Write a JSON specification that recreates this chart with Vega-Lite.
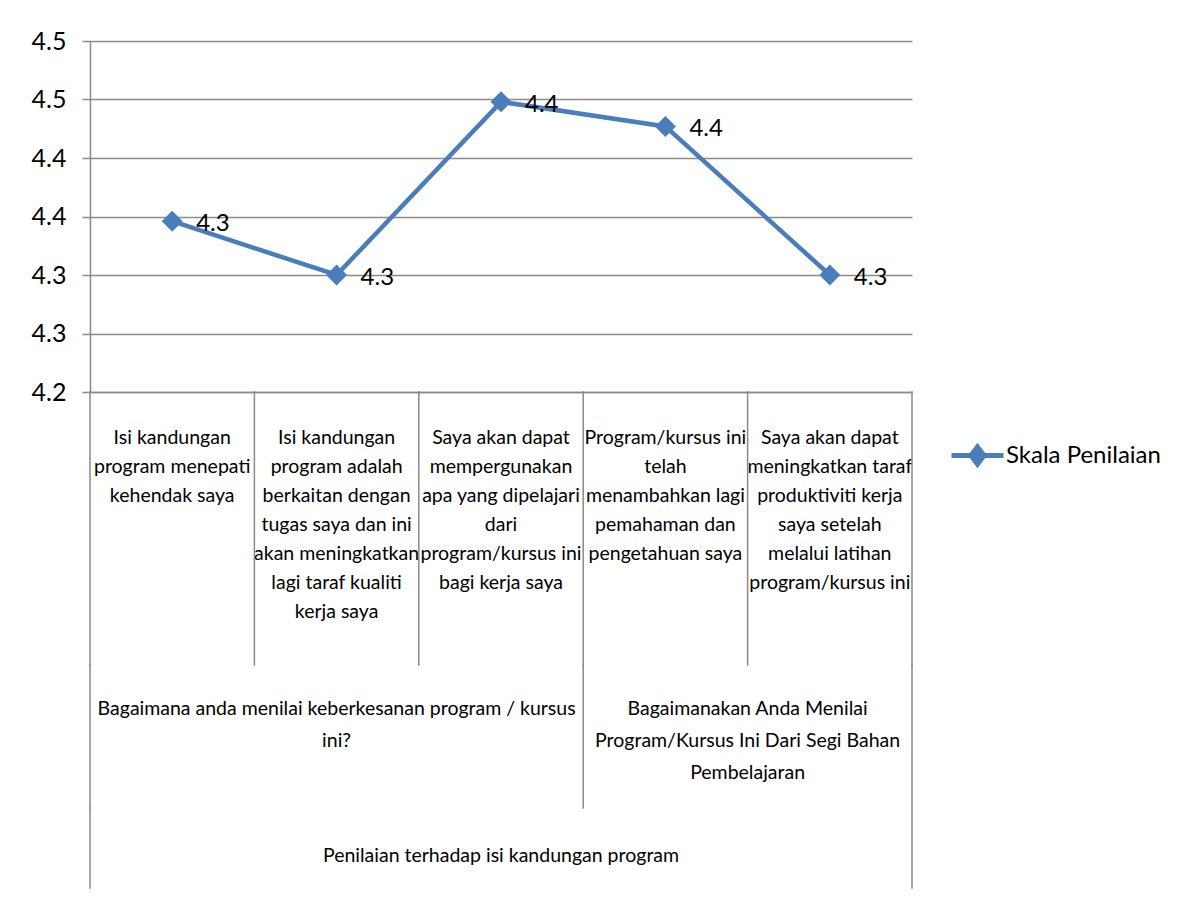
{
  "$schema": "https://vega.github.io/schema/vega-lite/v6.json",
  "padding": {"left": 31, "top": 29, "right": 0, "bottom": 0},
  "background": "white",
  "config": {
    "view": {"stroke": null},
    "font": "Lato"
  },
  "datasets": {
    "ratings": [
      {"idx": 1, "category": "Isi kandungan\nprogram menepati\nkehendak saya", "group": "Bagaimana anda menilai keberkesanan program / kursus\nini?", "top": "Penilaian terhadap isi kandungan program", "value": 4.346},
      {"idx": 2, "category": "Isi kandungan\nprogram adalah\nberkaitan dengan\ntugas saya dan ini\nakan meningkatkan\nlagi taraf kualiti\nkerja saya", "group": "Bagaimana anda menilai keberkesanan program / kursus\nini?", "top": "Penilaian terhadap isi kandungan program", "value": 4.3},
      {"idx": 3, "category": "Saya akan dapat\nmempergunakan\napa yang dipelajari\ndari\nprogram/kursus ini\nbagi kerja saya", "group": "Bagaimana anda menilai keberkesanan program / kursus\nini?", "top": "Penilaian terhadap isi kandungan program", "value": 4.448},
      {"idx": 4, "category": "Program/kursus ini\ntelah\nmenambahkan lagi\npemahaman dan\npengetahuan saya", "group": "Bagaimanakan Anda Menilai\nProgram/Kursus Ini Dari Segi Bahan\nPembelajaran", "top": "Penilaian terhadap isi kandungan program", "value": 4.427},
      {"idx": 5, "category": "Saya akan dapat\nmeningkatkan taraf\nproduktiviti kerja\nsaya setelah\nmelalui latihan\nprogram/kursus ini", "group": "Bagaimanakan Anda Menilai\nProgram/Kursus Ini Dari Segi Bahan\nPembelajaran", "top": "Penilaian terhadap isi kandungan program", "value": 4.3}
    ]
  },
  "data": {"name": "ratings"},
  "spacing": 0,
  "bounds": "flush",
  "vconcat": [
    {
      "width": 822,
      "height": 351,
      "encoding": {
        "x": {
          "field": "category", "type": "nominal", "sort": null,
          "scale": {"type": "band", "paddingInner": 0, "paddingOuter": 0},
          "axis": {
            "title": null, "labelAngle": 0,
            "labelExpr": "split(datum.label, '\\n')",
            "labelFont": "Lato",
            "labelFontSize": 19.5, "labelLineHeight": 29, "labelColor": "black",
            "labelBaseline": "top", "labelPadding": 36, "labelLimit": 400,
            "labelOverlap": false, "labelBound": false, "labelFlush": false,
            "ticks": false,
            "domain": true, "domainColor": "#8a8a8a", "domainWidth": 1.5, "grid": false
          }
        },
        "y": {
          "field": "value", "type": "quantitative",
          "scale": {"domain": [4.2, 4.5], "nice": false, "zero": false},
          "axis": {
            "title": null,
            "values": [4.2, 4.25, 4.3, 4.35, 4.4, 4.45, 4.5],
            "labelExpr": "format(datum.value + 0.001, '.1f')",
            "labelFont": "Lato",
            "labelFontSize": 25, "labelColor": "black", "labelPadding": 16,
            "tickSize": 8, "tickColor": "#8a8a8a", "tickWidth": 1.5,
            "domainColor": "#8a8a8a", "domainWidth": 1.5,
            "grid": true, "gridColor": "#8a8a8a", "gridWidth": 1.5
          }
        }
      },
      "layer": [
        {
          "mark": {"type": "line", "strokeWidth": 4.5},
          "encoding": {
            "color": {
              "datum": "Skala Penilaian", "type": "nominal",
              "scale": {"range": ["#4A7EBB"]},
              "legend": {
                "title": null, "orient": "none", "legendX": 859, "legendY": 386, "padding": 0,
                "labelFont": "Lato",
                "labelFontSize": 24, "labelColor": "black", "labelOffset": 0, "labelLimit": 400,
                "symbolSize": 2704,
                "encode": {
                  "symbols": {
                    "update": {
                      "shape": {"value": "M-1,0L1,0M0,-0.33L0.25,0L0,0.33L-0.25,0Z"},
                      "size": {"value": 2704},
                      "fill": {"value": "#4A7EBB"},
                      "stroke": {"value": "#4A7EBB"},
                      "strokeWidth": {"value": 5},
                      "opacity": {"value": 1}
                    }
                  }
                }
              }
            }
          }
        },
        {
          "mark": {"type": "point", "shape": "diamond", "filled": true, "size": 440, "opacity": 1, "color": "#4A7EBB"}
        },
        {
          "mark": {"type": "text", "align": "left", "baseline": "middle", "dx": 24, "dy": 3, "fontSize": 24, "color": "black"},
          "encoding": {"text": {"field": "value", "type": "quantitative", "format": ".1f"}}
        }
      ]
    },
    {
      "width": 822,
      "height": 273,
      "encoding": {
        "x": {"field": "idx", "type": "ordinal", "scale": {"type": "band", "domain": [1, 2, 3, 4, 5], "paddingInner": 0, "paddingOuter": 0}, "axis": null}
      },
      "layer": [
        {
          "mark": {"type": "rule", "color": "#8a8a8a", "strokeWidth": 1.5, "strokeCap": "square"},
          "encoding": {
            "x": {"field": "idx", "type": "ordinal", "bandPosition": 0}
          }
        },
        {
          "transform": [{"filter": "datum.idx == 5"}],
          "mark": {"type": "rule", "color": "#8a8a8a", "strokeWidth": 1.5, "strokeCap": "square"},
          "encoding": {
            "x": {"field": "idx", "type": "ordinal", "bandPosition": 1}
          }
        }
      ]
    },
    {
      "width": 822,
      "height": 143,
      "layer": [
        {
          "transform": [{"aggregate": [{"op": "mean", "field": "idx", "as": "mid"}], "groupby": ["group"]}],
          "mark": {"type": "text", "align": "center", "baseline": "top", "lineBreak": "\n", "lineHeight": 32, "fontSize": 19.5, "color": "black", "dy": -37},
          "encoding": {
            "x": {"field": "mid", "type": "quantitative", "scale": {"domain": [0.5, 5.5], "nice": false, "zero": false}, "axis": null},
            "text": {"field": "group", "type": "nominal"}
          }
        },
        {
          "transform": [
            {"joinaggregate": [{"op": "min", "field": "idx", "as": "first"}], "groupby": ["group"]},
            {"filter": "datum.idx == datum.first"}
          ],
          "mark": {"type": "rule", "color": "#8a8a8a", "strokeWidth": 1.5, "strokeCap": "square"},
          "encoding": {
            "x": {"field": "idx", "type": "ordinal", "bandPosition": 0, "scale": {"type": "band", "domain": [1, 2, 3, 4, 5], "paddingInner": 0, "paddingOuter": 0}, "axis": null}
          }
        },
        {
          "transform": [{"filter": "datum.idx == 5"}],
          "mark": {"type": "rule", "color": "#8a8a8a", "strokeWidth": 1.5, "strokeCap": "square"},
          "encoding": {
            "x": {"field": "idx", "type": "ordinal", "bandPosition": 1, "scale": {"type": "band", "domain": [1, 2, 3, 4, 5], "paddingInner": 0, "paddingOuter": 0}, "axis": null}
          }
        }
      ],
      "resolve": {"scale": {"x": "independent"}}
    },
    {
      "width": 822,
      "height": 80,
      "layer": [
        {
          "transform": [{"aggregate": [{"op": "mean", "field": "idx", "as": "mid"}], "groupby": ["top"]}],
          "mark": {"type": "text", "align": "center", "baseline": "middle", "fontSize": 19.5, "color": "black", "dy": 8},
          "encoding": {
            "x": {"field": "mid", "type": "quantitative", "scale": {"domain": [0.5, 5.5], "nice": false, "zero": false}, "axis": null},
            "text": {"field": "top", "type": "nominal"}
          }
        },
        {
          "transform": [{"filter": "datum.idx == 1"}],
          "mark": {"type": "rule", "color": "#8a8a8a", "strokeWidth": 1.5, "strokeCap": "square"},
          "encoding": {
            "x": {"field": "idx", "type": "ordinal", "bandPosition": 0, "scale": {"type": "band", "domain": [1, 2, 3, 4, 5], "paddingInner": 0, "paddingOuter": 0}, "axis": null}
          }
        },
        {
          "transform": [{"filter": "datum.idx == 5"}],
          "mark": {"type": "rule", "color": "#8a8a8a", "strokeWidth": 1.5, "strokeCap": "square"},
          "encoding": {
            "x": {"field": "idx", "type": "ordinal", "bandPosition": 1, "scale": {"type": "band", "domain": [1, 2, 3, 4, 5], "paddingInner": 0, "paddingOuter": 0}, "axis": null}
          }
        }
      ],
      "resolve": {"scale": {"x": "independent"}}
    }
  ]
}
